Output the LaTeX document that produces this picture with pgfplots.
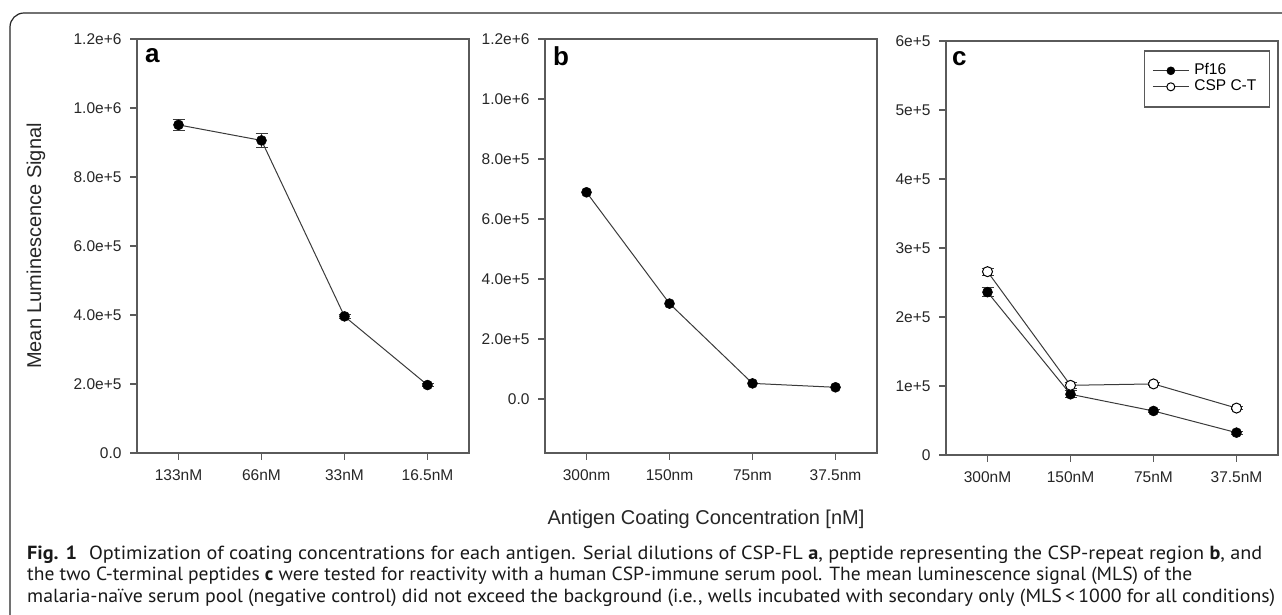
\documentclass[border=0pt]{standalone}
\usepackage{fontspec}
\setmainfont{Liberation Sans}
\newfontfamily\capfont{PT Sans}
\usepackage{graphicx}
\usepackage{pgfplots}
\pgfplotsset{compat=1.18}

\definecolor{axisgray}{HTML}{5A5A5A}
\definecolor{linegray}{HTML}{3A3A3A}

\tikzset{lett/.style={font=\bfseries\fontsize{26}{26}\selectfont, anchor=base west, inner sep=0pt}}

\pgfplotsset{
  panel/.style={
    scale only axis, width=332pt, height=414pt,
    anchor=south west,
    axis line style={axisgray, line width=1.4pt},
    xmin=-0.5, xmax=3.5, xtick={0,1,2,3},
    tick align=outside, tick pos=left,
    major tick length=7pt,
    tick style={axisgray, line width=1.2pt},
    tick label style={font=\fontsize{15.5}{18}\selectfont, text=black!85},
    yticklabel style={xshift=-5pt},
    xticklabel style={yshift=-6pt},
    clip=false,
  },
  dat/.style={linegray, line width=1pt, mark=*, mark size=5pt,
    mark options={fill=black, draw=black, line width=0.5pt}},
  odat/.style={linegray, line width=1pt, mark=*, mark size=5pt,
    mark options={fill=white, draw=black, line width=1pt}},
  ebar/.style={error bars/.cd, y dir=both, y explicit,
    error bar style={linegray, line width=1pt},
    error mark options={rotate=90, mark size=6pt, linegray, line width=1pt}},
}

\begin{document}
\begin{tikzpicture}

% outer frame
\draw[black!85, line width=1.2pt, rounded corners=14pt] (1300pt,602pt) -- (10pt,602pt) -- (10pt,-20pt);

% ---------- panel a ----------
\begin{axis}[panel, at={(137pt,162pt)},
  ymin=0, ymax=12, ytick={0,2,4,6,8,10,12},
  yticklabels={0.0,2.0e+5,4.0e+5,6.0e+5,8.0e+5,1.0e+6,1.2e+6},
  xticklabels={133nM,66nM,33nM,16.5nM}]
\addplot[dat, ebar] coordinates {
  (0,9.51) +- (0,0.165)
  (1,9.06) +- (0,0.20)
  (2,3.96) +- (0,0.06)
  (3,1.97) +- (0,0.04)
};
\node[lett] at (axis description cs:0.024,0.944) {a};
\end{axis}

% ---------- panel b ----------
\begin{axis}[panel, at={(545pt,162pt)},
  ymin=-1.8, ymax=12, ytick={0,2,4,6,8,10,12},
  yticklabels={0.0,2.0e+5,4.0e+5,6.0e+5,8.0e+5,1.0e+6,1.2e+6},
  xticklabels={300nm,150nm,75nm,37.5nm}]
\addplot[dat] coordinates {
  (0,6.89) (1,3.18) (2,0.52) (3,0.39)
};
\node[lett] at (axis description cs:0.024,0.935) {b};
\end{axis}

% ---------- panel c ----------
\begin{axis}[panel, at={(946pt,160pt)},
  ymin=0, ymax=6, ytick={0,1,2,3,4,5,6},
  yticklabels={0,1e+5,2e+5,3e+5,4e+5,5e+5,6e+5},
  xticklabels={300nM,150nM,75nM,37.5nM},
  legend style={at={(axis description cs:0.976,0.978)}, anchor=north east,
    draw=axisgray, line width=1.4pt, fill=white,
    font=\fontsize{15.5}{17}\selectfont,
    inner xsep=8pt, inner ysep=12pt, row sep=0pt,
    nodes={inner xsep=5pt, inner ysep=1pt, text height=11pt, text depth=3pt}},
  legend cell align=left,
  legend image code/.code={\draw[mark repeat=2,mark phase=2,#1, mark size=4pt]
    plot coordinates {(0pt,0pt)(18pt,0pt)(36pt,0pt)};}]
\addplot[dat, ebar] coordinates {
  (0,2.36) +- (0,0.07)
  (1,0.88) +- (0,0.05)
  (2,0.638) +- (0,0.02)
  (3,0.324) +- (0,0.02)
};
\addlegendentry{Pf16}
\addplot[odat, ebar] coordinates {
  (0,2.657) +- (0,0.05)
  (1,1.01) +- (0,0.04)
  (2,1.03) +- (0,0.02)
  (3,0.68) +- (0,0.02)
};
\addlegendentry{CSP C-T}
\node[lett] at (axis description cs:0.018,0.942) {c};
\end{axis}

% axis titles
\node[rotate=90, font=\fontsize{20}{24}\selectfont, text=black!85] at (36pt,369pt) {Mean Luminescence Signal};
\node[font=\fontsize{20}{24}\selectfont, text=black!85] at (706pt,96pt) {Antigen Coating Concentration [nM]};

% caption
\begin{scope}[every node/.style={anchor=base west, inner sep=0pt, font=\capfont\fontsize{19}{22}\selectfont, text=black!90}]
\node at (27pt,55pt) {\resizebox{1235pt}{\height}{\textbf{Fig. 1}\hspace{0.6em}Optimization of coating concentrations for each antigen. Serial dilutions of CSP-FL \textbf{a}, peptide representing the CSP-repeat region \textbf{b}, and}};
\node at (27pt,34pt) {\resizebox{1165pt}{\height}{the two C-terminal peptides \textbf{c} were tested for reactivity with a human CSP-immune serum pool. The mean luminescence signal (MLS) of the}};
\node at (27pt,12pt) {\resizebox{1248pt}{\height}{malaria-naïve serum pool (negative control) did not exceed the background (i.e., wells incubated with secondary only (MLS\,<\,1000 for all conditions)}};
\end{scope}

\pgfresetboundingbox
\useasboundingbox (0pt,0pt) rectangle (1282pt,615pt);
\end{tikzpicture}
\end{document}
